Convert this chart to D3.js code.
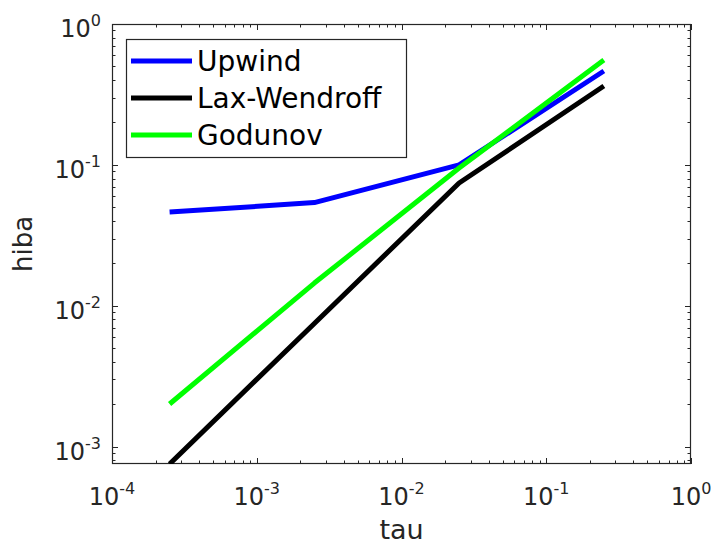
<!DOCTYPE html>
<html>
<head>
<meta charset="utf-8">
<script src="https://cdn.jsdelivr.net/npm/d3@7"></script>
<style>
  html, body { margin: 0; padding: 0; background: #fff; }
  svg { display: block; font-family: "DejaVu Sans", sans-serif; }
</style>
</head>
<body>
<svg id="chart" width="712" height="545"></svg>
<script>
// Step sizes and the error of each scheme
const tau = [2.5e-4, 2.5e-3, 2.5e-2, 2.5e-1];
const upwind = [0.0463, 0.0540, 0.100, 0.464];
const laxWendroff = [7.54e-4, 0.0075, 0.0744, 0.363];
const godunov = [0.00201, 0.0145, 0.095, 0.555];

const seriesNames = ["Upwind", "Lax-Wendroff", "Godunov"];
const seriesColors = ["#0000ff", "#000000", "#00ff00"];

const xTickExps = [-4, -3, -2, -1, 0];
const yTickExps = [-3, -2, -1, 0];

const series = [upwind, laxWendroff, godunov].map((vals, i) => ({
  name: seriesNames[i],
  color: seriesColors[i],
  points: vals.map((v, j) => ({ x: tau[j], y: v }))
}));

const W = 712, H = 545;
const plot = { left: 112, right: 691, top: 24, bottom: 464 };
const axisColor = "#262626";

const svg = d3.select("#chart");
svg.append("rect").attr("width", W).attr("height", H).attr("fill", "#fff");

const x = d3.scaleLog().domain([1e-4, 1]).range([plot.left, plot.right]);
const y = d3.scaleLog().domain([d3.min(laxWendroff), 1]).range([plot.bottom, plot.top]);

svg.append("clipPath").attr("id", "plotClip")
  .append("rect")
  .attr("x", plot.left).attr("y", plot.top)
  .attr("width", plot.right - plot.left).attr("height", plot.bottom - plot.top);

// Major and minor log ticks on all four sides, pointing inward
function logTicks(domain) {
  const out = [];
  const lo = Math.floor(Math.log10(domain[0])), hi = Math.ceil(Math.log10(domain[1]));
  for (let e = lo; e <= hi; e++) {
    for (let m = 1; m <= 9; m++) {
      const v = m * Math.pow(10, e);
      if (v >= domain[0] * 0.9999 && v <= domain[1] * 1.0001) out.push({ v, major: m === 1 });
    }
  }
  return out;
}

const ticksG = svg.append("g").attr("stroke", axisColor).attr("stroke-width", 1);
logTicks(x.domain()).forEach(t => {
  const px = Math.round(x(t.v)) + 0.5;
  const len = t.major ? 6 : 3.5;
  ticksG.append("line").attr("x1", px).attr("x2", px).attr("y1", plot.bottom).attr("y2", plot.bottom - len);
  ticksG.append("line").attr("x1", px).attr("x2", px).attr("y1", plot.top).attr("y2", plot.top + len);
});
logTicks(y.domain()).forEach(t => {
  const py = Math.round(y(t.v)) + 0.5;
  const len = t.major ? 6 : 3.5;
  ticksG.append("line").attr("y1", py).attr("y2", py).attr("x1", plot.left).attr("x2", plot.left + len);
  ticksG.append("line").attr("y1", py).attr("y2", py).attr("x1", plot.right).attr("x2", plot.right - len);
});

// Axes box
svg.append("rect")
  .attr("x", plot.left + 0.5).attr("y", plot.top + 0.5)
  .attr("width", plot.right - plot.left - 1).attr("height", plot.bottom - plot.top - 1)
  .attr("fill", "none").attr("stroke", axisColor).attr("stroke-width", 1.2);

// Power-of-ten tick labels
function powerLabel(g, e) {
  g.append("tspan").text("10");
  g.append("tspan").attr("font-size", 16).attr("dy", -11).text(e === 0 ? "0" : "-" + Math.abs(e));
}
xTickExps.forEach(e => {
  const t = svg.append("text")
    .attr("x", x(Math.pow(10, e))).attr("y", 505)
    .attr("text-anchor", "middle").attr("font-size", 24).attr("fill", axisColor);
  powerLabel(t, e);
});
yTickExps.forEach(e => {
  const t = svg.append("text")
    .attr("x", 101).attr("y", y(Math.pow(10, e)) + 13)
    .attr("text-anchor", "end").attr("font-size", 24).attr("fill", axisColor);
  powerLabel(t, e);
});

// Axis titles
svg.append("text").attr("x", (plot.left + plot.right) / 2).attr("y", 539)
  .attr("text-anchor", "middle").attr("font-size", 27).attr("fill", axisColor).text("tau");
svg.append("text")
  .attr("transform", `translate(32,${(plot.top + plot.bottom) / 2}) rotate(-90)`)
  .attr("text-anchor", "middle").attr("font-size", 26).attr("fill", axisColor).text("hiba");

// Error curves
const line = d3.line().x(d => x(d.x)).y(d => y(d.y));
const linesG = svg.append("g").attr("clip-path", "url(#plotClip)");
series.forEach(s => {
  linesG.append("path")
    .datum(s.points)
    .attr("d", line)
    .attr("fill", "none")
    .attr("stroke", s.color)
    .attr("stroke-width", 5)
    .attr("stroke-linejoin", "round");
});

// Legend
const legend = svg.append("g");
legend.append("rect")
  .attr("x", 126.5).attr("y", 39.5).attr("width", 280).attr("height", 118)
  .attr("fill", "#fff").attr("stroke", axisColor).attr("stroke-width", 1.2);
series.forEach((s, i) => {
  const cy = 61 + i * 37;
  legend.append("line")
    .attr("x1", 131).attr("x2", 192).attr("y1", cy).attr("y2", cy)
    .attr("stroke", s.color).attr("stroke-width", 5);
  legend.append("text")
    .attr("x", 197).attr("y", cy + 10)
    .attr("font-size", 28).attr("fill", "#000").text(s.name);
});
</script>
</body>
</html>
